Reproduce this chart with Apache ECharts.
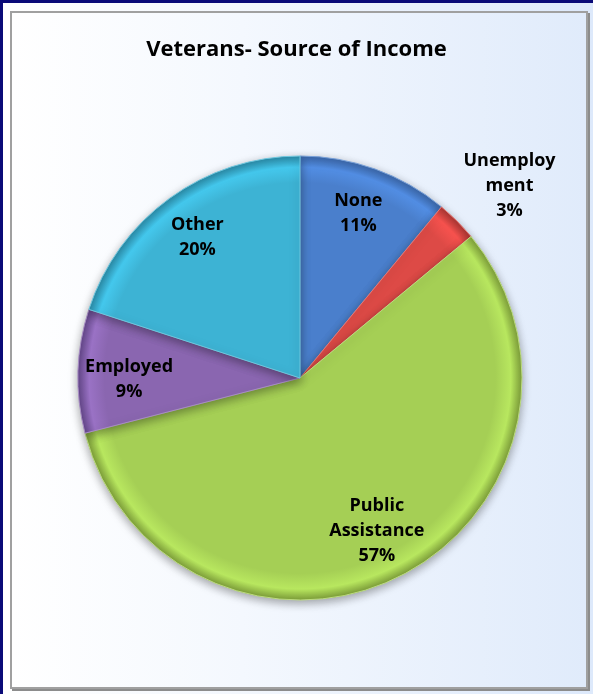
<!DOCTYPE html>
<html><head><meta charset="utf-8">
<script src="https://cdn.jsdelivr.net/npm/echarts@6/dist/echarts.min.js"></script>
<style>
html,body{margin:0;padding:0;width:593px;height:694px;overflow:hidden;}
#bg{position:absolute;left:0;top:0;width:593px;height:694px;box-sizing:border-box;border-top:3px solid #0a0a78;border-left:3px solid #0a0a78;background:linear-gradient(to right,#ffffff 0%,#f3f7fd 40%,#dde9fb 100%);}
#frame{position:absolute;left:10px;top:11px;width:574px;height:674px;border:2px solid #a0a0a0;box-shadow:2px 2px 0 #8c8c8c;background:linear-gradient(to right,#ffffff 0%,#f4f8fe 40%,#e0ebfb 100%);}
#chart{position:absolute;left:0;top:0;width:593px;height:694px;}
</style></head>
<body><div id="bg"></div><div id="frame"></div><div id="chart"></div>
<script>
const categories = ['None','Unemployment','Public Assistance','Employed','Other'];
const labelText = ['None','Unemploy\nment','Public\nAssistance','Employed','Other'];
const values = [11,3,57,9,20];
const baseColors = ['#4a7fcc','#dd4a46','#a5cf55','#8a66b0','#3db3d4'];
const rimColors = ['#3a66a8','#a83532','#7e9f3a','#64478a','#2a8aa6'];

// label nudges (styling only)
const labelNudge = {'Unemployment':[8,9],'Employed':[7,7],'Public Assistance':[-4,-6],'None':[-2,3],'Other':[2,3]};

const cx=300, cy=378, R=222;
const chart = echarts.init(document.getElementById('chart'));
const font = {fontFamily:'Open Sans', fontWeight:'bold', fontSize:18, color:'#000', lineHeight:25};

const mainData = categories.map((c,i)=>({
  name:c, value:values[i],
  itemStyle:{
    color:{type:'radial',x:cx,y:cy,r:R,global:true,colorStops:[
      {offset:0,color:baseColors[i]},{offset:0.88,color:baseColors[i]},
      {offset:0.95,color:echarts.color.lift(baseColors[i],-0.12)},{offset:1,color:rimColors[i]}]},
    borderColor:echarts.color.lift(baseColors[i],0.25), borderWidth:1
  }
}));
const labelData = (showIdx)=>categories.map((c,i)=>({
  name:c, value:values[i],
  label:{show:showIdx(i), offset:labelNudge[c]||[0,0]}
}));
const fmt = p => labelText[p.dataIndex] + '\n' + p.percent.toFixed(0) + '%';

chart.setOption({
  animation:false,
  title:{text:'Veterans- Source of Income',left:'center',top:34,
    textStyle:{fontFamily:'Open Sans',fontWeight:'bold',fontSize:22,color:'#000'}},
  series:[
    {type:'pie',center:[cx,cy],radius:[0,R],startAngle:90,clockwise:true,silent:true,
     label:{show:false},labelLine:{show:false},
     itemStyle:{shadowBlur:10,shadowColor:'rgba(0,0,0,0.35)',shadowOffsetY:3},
     data:mainData},
    {type:'pie',center:[cx,cy],radius:[128,R],startAngle:90,clockwise:true,silent:true,
     itemStyle:{color:'rgba(0,0,0,0)'},labelLine:{show:false},
     label:Object.assign({position:'inside',formatter:fmt,align:'center'},font),
     data:labelData(i=>i!==1)},
    {type:'pie',center:[cx,cy],radius:[R,342],startAngle:90,clockwise:true,silent:true,
     itemStyle:{color:'rgba(0,0,0,0)'},labelLine:{show:false},
     label:Object.assign({position:'inside',formatter:fmt,align:'center'},font),
     data:labelData(i=>i===1)}
  ]
});
</script></body></html>
